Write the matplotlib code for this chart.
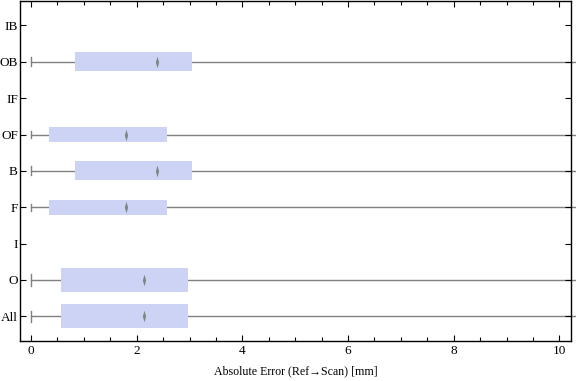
import numpy as np
import matplotlib
matplotlib.use("Agg")
import matplotlib.pyplot as plt
from matplotlib.patches import Rectangle

# ── data ──────────────────────────────────────────────────────────────────────
categories = ["All", "O", "I", "F", "B", "OF", "IF", "OB", "IB"]
q1 = [0.57, 0.57, np.nan, 0.33, 0.83, 0.33, np.nan, 0.83, np.nan]
q3 = [2.97, 2.97, np.nan, 2.57, 3.05, 2.57, np.nan, 3.05, np.nan]
median = [2.14, 2.14, np.nan, 1.80, 2.38, 1.80, np.nan, 2.38, np.nan]
whisk_lo = [0.0, 0.0, np.nan, 0.0, 0.0, 0.0, np.nan, 0.0, np.nan]
whisk_hi = [10.5, 10.5, np.nan, 10.5, 10.5, 10.5, np.nan, 10.5, np.nan]

# box thickness per category (drawing style)
box_h = [0.65, 0.65, 0.0, 0.41, 0.52, 0.41, 0.0, 0.52, 0.0]

BOX_C = "#ccd3f4"
LINE_C = "#808080"
MED_C = "#7d8580"
DIAMOND = [(0, -1), (0.28, 0), (0, 1), (-0.28, 0)]

plt.rcParams["font.family"] = ["Liberation Serif", "DejaVu Serif"]

fig = plt.figure(figsize=(5.76, 3.81), dpi=100)
ax = fig.add_axes([0.0347, 0.105, 0.9566, 0.893])

ypos = np.arange(1, len(categories) + 1)
for y, a, b, m, lo, hi, h in zip(ypos, q1, q3, median, whisk_lo, whisk_hi, box_h):
    if np.isnan(a):
        continue
    # whiskers (right one runs off past the frame)
    ax.plot([lo, a], [y, y], color=LINE_C, lw=1.0, zorder=1)
    ax.plot([b, hi], [y, y], color=LINE_C, lw=1.0, zorder=1, clip_on=False)
    ax.plot([lo, lo], [y - h * 0.24, y + h * 0.24], color=LINE_C, lw=1.0, zorder=1)
    ax.add_patch(Rectangle((a, y - h / 2), b - a, h, facecolor=BOX_C,
                           edgecolor="none", zorder=2))
    ax.scatter([m], [y], marker=DIAMOND, s=70, color=MED_C,
               linewidths=0, zorder=3)

ax.set_xlim(-0.21, 10.22)
ax.set_ylim(0.32, 9.68)
ax.set_yticks(ypos)
ax.set_yticklabels(categories)
ax.set_xticks(np.arange(0, 11, 2))
ax.set_xticks(np.arange(0, 10.01, 0.5), minor=True)
ax.tick_params(direction="in", top=True, right=True, labelsize=9.5,
               length=4.5, width=0.8, pad=3)
ax.tick_params(axis="y", pad=1.5)
ax.tick_params(which="minor", direction="in", top=True, right=True,
               length=2.7, width=0.8)
ax.tick_params(axis="y", which="minor", left=False, right=False)
for s in ax.spines.values():
    s.set_linewidth(1.0)

ax.set_xlabel("Absolute Error (Ref\u2192Scan) [mm]", fontsize=8.6, labelpad=6)

fig.savefig("out.png", dpi=100)
